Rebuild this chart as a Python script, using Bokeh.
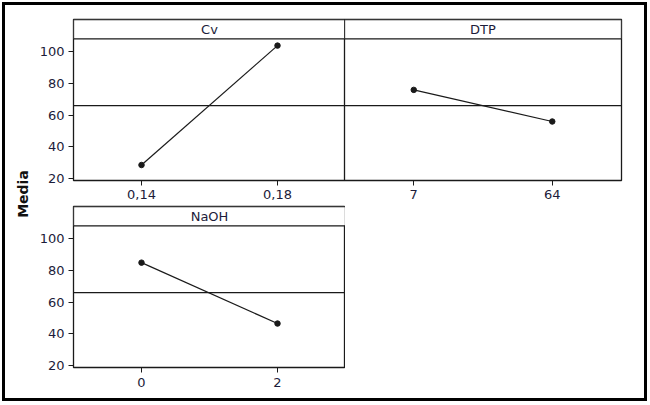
import numpy as np
from bokeh.plotting import figure
from bokeh.models import Range1d, FactorRange, Span, BoxAnnotation, Label, FixedTicker
from bokeh.layouts import row, column
from bokeh.embed import file_html
from bokeh.resources import INLINE

# ---- data ----
cv_levels = ["0,14", "0,18"]
cv_means = [28.5, 104.0]
dtp_levels = ["7", "64"]
dtp_means = [76.0, 56.0]
naoh_levels = ["0", "2"]
naoh_means = [85.0, 46.5]
panel_titles = ["Cv", "DTP", "NaOH"]
y_ticks = [20, 40, 60, 80, 100]
y_label = "Media"

grand_mean = float(np.mean(cv_means + dtp_means + naoh_means))

# ---- style ----
Y_LO, Y_PLOT_HI, Y_HI = 18.7, 108.3, 120.5
FONT = "DejaVu Sans"
TXT = "#1c1c3a"
LINE = "#1a1a1a"
LW = 1.3


def panel(title, levels, means, width, height, mb, show_y, standoff, styles=None):
    p = figure(width=width, height=height,
               x_range=FactorRange(*levels), y_range=Range1d(Y_LO, Y_HI),
               output_backend="svg", toolbar_location=None,
               min_border_left=mb[0], min_border_right=mb[1],
               min_border_top=mb[2], min_border_bottom=mb[3],
               y_axis_location="left" if show_y else None,
               background_fill_color="white", border_fill_color="white",
               outline_line_color=LINE, outline_line_width=LW, outline_line_alpha=1.0,
               styles=styles or {})
    p.grid.visible = False

    # strip with the factor name
    p.add_layout(BoxAnnotation(bottom=Y_PLOT_HI, fill_color="white", fill_alpha=1.0,
                               line_color=LINE, line_alpha=1.0, line_width=LW))
    p.add_layout(Label(x=len(levels) / 2, y=(Y_PLOT_HI + Y_HI) / 2, text=title,
                       text_align="center", text_baseline="middle",
                       text_font=FONT, text_font_size="13px", text_color=TXT))

    # grand mean reference line
    p.add_layout(Span(location=grand_mean, dimension="width",
                      line_color=LINE, line_width=1.2))

    p.line(levels, means, line_color=LINE, line_width=1.2)
    p.scatter(levels, means, size=5.5, color=LINE, marker="circle")

    for ax in p.xaxis:
        ax.axis_line_color = None
        ax.major_tick_out = 5
        ax.major_tick_in = 0
        ax.major_tick_line_color = LINE
        ax.major_label_standoff = standoff
        ax.major_label_text_font = FONT
        ax.major_label_text_font_size = "13px"
        ax.major_label_text_color = TXT
    for ax in p.yaxis:
        ax.ticker = FixedTicker(ticks=y_ticks)
        ax.axis_line_color = None
        ax.major_tick_out = 5
        ax.major_tick_in = 0
        ax.major_tick_line_color = LINE
        ax.minor_tick_out = 0
        ax.minor_tick_in = 0
        ax.major_label_standoff = 4
        ax.major_label_text_font = FONT
        ax.major_label_text_font_size = "13px"
        ax.major_label_text_color = TXT
    return p


pA = panel(panel_titles[0], cv_levels, cv_means, 310, 200, (38, 0, 14, 25), True, 4)
pB = panel(panel_titles[1], dtp_levels, dtp_means, 300, 200, (0, 23, 14, 25), False, 4,
           styles={"margin-left": "-1px"})
pC = panel(panel_titles[2], naoh_levels, naoh_means, 310, 193, (38, 0, 1, 31), True, 5)

m = figure(width=30, height=393, output_backend="svg", toolbar_location=None,
           min_border=0, x_axis_location=None, y_axis_location=None,
           outline_line_color=None, background_fill_color="white",
           border_fill_color="white")
m.grid.visible = False
m.add_layout(Label(x=17, y=204.5, x_units="screen", y_units="screen", text=y_label,
                   angle=np.pi / 2, text_align="center", text_baseline="middle",
                   text_font=FONT, text_font_size="14px",
                   text_font_style="bold", text_color="#111111"))

layout = row(m, column(row(pA, pB), pC),
             styles={"border": "3px solid black", "margin": "2px 0 0 2px",
                     "background-color": "white"})

open("out.html", "w").write(file_html(layout, INLINE))
